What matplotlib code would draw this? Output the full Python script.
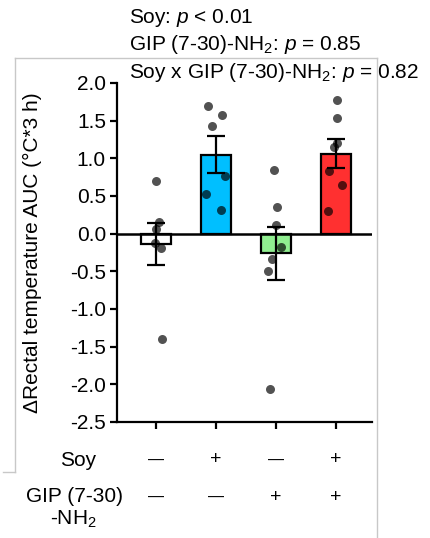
import matplotlib
matplotlib.use("Agg")
import matplotlib.pyplot as plt
from matplotlib.lines import Line2D
import numpy as np

plt.rcParams['font.family'] = ['Liberation Sans', 'DejaVu Sans']
plt.rcParams['mathtext.fontset'] = 'custom'
plt.rcParams['mathtext.rm'] = 'Liberation Sans'
plt.rcParams['mathtext.it'] = 'Liberation Sans:italic'

# datos
means = [-0.14, 1.05, -0.26, 1.06]
sems = [0.28, 0.24, 0.35, 0.19]
colors = ["white", "#00BFFF", "#90EE90", "#FF3030"]
soy = ["—", "+", "—", "+"]
gip = ["—", "—", "+", "+"]

points = [
    [0.70, 0.16, 0.06, -0.13, -0.19, -1.40],
    [1.70, 1.58, 1.43, 0.76, 0.53, 0.31],
    [0.85, 0.35, 0.11, -0.18, -0.34, -0.50, -2.06],
    [1.78, 1.54, 1.15, 1.20, 0.83, 0.65, 0.30],
]
jitter = [
    [0.0, 0.055, 0.0, -0.017, 0.078, 0.095],
    [-0.138, 0.095, -0.062, 0.15, -0.172, 0.083],
    [-0.033, 0.012, 0.0, 0.083, -0.062, -0.138, -0.10],
    [0.012, 0.012, -0.04, 0.02, -0.117, 0.095, -0.128],
]

fig = plt.figure(figsize=(4.31, 5.38), dpi=100)
ax = fig.add_axes([117/431, 1-422/538, 255/431, 339/538])

x = np.arange(len(means))
ax.bar(x, means, width=0.5, color=colors, edgecolor="black", linewidth=1.6, zorder=2)
for i in range(len(points)):
    ax.scatter(x[i] + np.array(jitter[i]), points[i], s=42, color="black",
               alpha=0.68, linewidths=0, zorder=3)
ax.errorbar(x, means, yerr=sems, fmt="none", ecolor="black", elinewidth=1.6,
            capsize=6.5, capthick=1.6, zorder=4)
ax.axhline(0, color="black", linewidth=1.8, zorder=5)

ax.set_xlim(-0.65, 3.6)
ax.set_ylim(-2.5, 2.0)
ax.set_yticks(np.arange(-2.5, 2.01, 0.5))
ax.set_yticklabels([f"{v:.1f}" for v in np.arange(-2.5, 2.01, 0.5)])
ax.set_xticks(x)
ax.set_xticklabels([])
for s in ["top", "right"]:
    ax.spines[s].set_visible(False)
for s in ["left", "bottom"]:
    ax.spines[s].set_linewidth(1.6)
ax.tick_params(axis="y", length=5, width=1.6, labelsize=15, pad=3)
ax.tick_params(axis="x", length=5, width=1.6)
ax.set_ylabel("ΔRectal temperature AUC (°C*3 h)", fontsize=15)
ax.yaxis.set_label_coords(-0.294, 0.5)

# filas de tratamiento
fig.text(78/431, 1-460/538, "Soy", fontsize=15, ha="center", va="center")
fig.text(75/431, 1-497/538, "GIP (7-30)", fontsize=15, ha="center", va="center")
fig.text(73/431, 1-519/538, "-NH$_2$", fontsize=15, ha="center", va="center")
for i in range(4):
    xf = (117 + (x[i] + 0.65) * 60) / 431
    for lab, yp in [(soy[i], 460), (gip[i], 497)]:
        fs = 11.5 if lab == "—" else 14
        fig.text(xf, 1-yp/538, lab, fontsize=fs, ha="center", va="center")

# marco gris
g = "#c8c8c8"
fig.add_artist(Line2D([15/431, 377/431], [1-58/538, 1-58/538], color=g, lw=1))
fig.add_artist(Line2D([15/431, 15/431], [1-58/538, 1-472/538], color=g, lw=1))
fig.add_artist(Line2D([3/431, 15/431], [1-472/538, 1-472/538], color=g, lw=1))
fig.add_artist(Line2D([377/431, 377/431], [1-58/538, 0], color=g, lw=1))

# estadistica
fig.text(129/431, 1-18/538, "Soy: $p$ < 0.01", fontsize=15, ha="left", va="center")
fig.text(129/431, 1-45/538, "GIP (7-30)-NH$_2$: $p$ = 0.85", fontsize=15, ha="left", va="center")
fig.text(129/431, 1-72/538, "Soy x GIP (7-30)-NH$_2$: $p$ = 0.82", fontsize=15, ha="left", va="center")

fig.savefig("out.png", dpi=100)
